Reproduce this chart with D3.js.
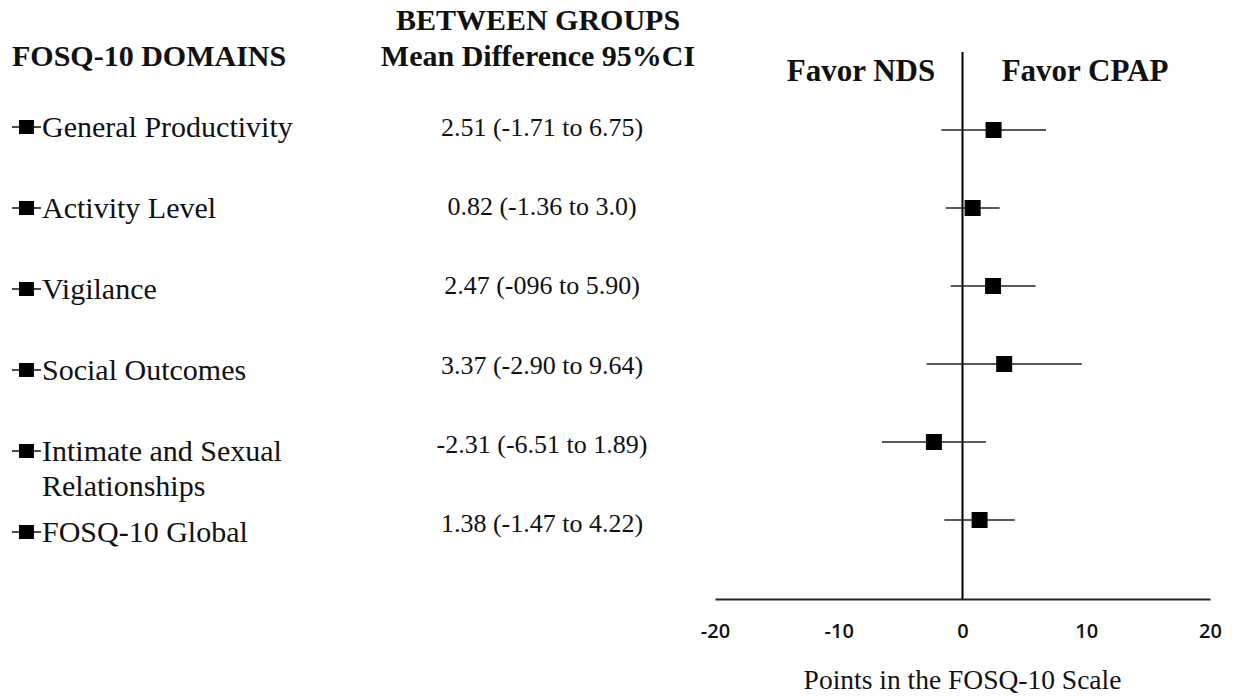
<!DOCTYPE html>
<html>
<head>
<meta charset="utf-8">
<script src="https://cdn.jsdelivr.net/npm/d3@7"></script>
<style>
  html, body { margin: 0; padding: 0; background: #fff; }
  svg { display: block; }
  .serif { font-family: "Liberation Serif", "Times New Roman", serif; fill: #111; }
  .tick text { font-family: "Open Sans", sans-serif; font-size: 20px; font-weight: 600; fill: #111; }
</style>
</head>
<body>
<svg id="canvas" width="1240" height="698"></svg>
<script>
// FOSQ-10 domains and between-group mean differences
const domains = [
	'General Productivity',
	'Activity Level',
	'Vigilance',
	'Social Outcomes',
	'Intimate and Sexual Relationships',
	'FOSQ-10 Global'
];
// label lines as printed
const domainLines = [
	['General Productivity'],
	['Activity Level'],
	['Vigilance'],
	['Social Outcomes'],
	['Intimate and Sexual', 'Relationships'],
	['FOSQ-10 Global']
];
const meanDiff = [2.51, 0.82, 2.47, 3.37, -2.31, 1.38];
const ciLower = [-1.71, -1.36, -0.96, -2.9, -6.51, -1.47];
const ciUpper = [6.75, 3.0, 5.9, 9.64, 1.89, 4.22];
const ciText = [
	'2.51 (-1.71 to 6.75)',
	'0.82 (-1.36 to 3.0)',
	'2.47 (-096 to 5.90)',
	'3.37 (-2.90 to 9.64)',
	'-2.31 (-6.51 to 1.89)',
	'1.38 (-1.47 to 4.22)'
];
const xTicks = [-20, -10, 0, 10, 20];

let rows = domains.map((d, i) => ({
	domain: d,
	lines: domainLines[i],
	mean: meanDiff[i],
	lo: ciLower[i],
	hi: ciUpper[i],
	text: ciText[i]
}));

let svg = d3.select('#canvas');

let x = d3.scaleLinear().domain([-20, 20]).range([715, 1210]);
let yPlot = d3.scalePoint().domain(domains).range([130, 520]);
let yLabel = d3.scalePoint().domain(domains).range([127, 532]);
let yValue = d3.scalePoint().domain(domains).range([127, 523]);
let axisY = 599;

// headers
svg.append('text').attr('class', 'serif')
	.attr('x', 12).attr('y', 66)
	.style('font-size', '30px').style('font-weight', 'bold')
	.text('FOSQ-10 DOMAINS');

svg.append('text').attr('class', 'serif')
	.attr('x', 538).attr('y', 30).attr('text-anchor', 'middle')
	.style('font-size', '30px').style('font-weight', 'bold')
	.text('BETWEEN GROUPS');

svg.append('text').attr('class', 'serif')
	.attr('x', 538).attr('y', 66).attr('text-anchor', 'middle')
	.style('font-size', '30px').style('font-weight', 'bold')
	.text('Mean Difference 95%CI');

// left column: legend glyph + domain names
let labels = svg.selectAll('g.label')
	.data(rows)
	.enter()
	.append('g')
	.attr('class', 'label')
	.attr('transform', (d) => 'translate(0,' + yLabel(d.domain) + ')');

labels.append('line')
	.attr('x1', 12).attr('x2', 41)
	.attr('y1', 0).attr('y2', 0)
	.attr('stroke', '#111').attr('stroke-width', 1.5);

labels.append('rect')
	.attr('x', 19).attr('y', -7)
	.attr('width', 15).attr('height', 14)
	.attr('fill', '#000');

labels.append('text')
	.attr('class', 'serif')
	.attr('x', 42)
	.style('font-size', '30px')
	.selectAll('tspan')
	.data((d) => d.lines)
	.enter()
	.append('tspan')
	.attr('x', 42)
	.attr('y', (d, i) => 10 + i * 35)
	.text((d) => d);

// middle column: mean difference with CI
svg.selectAll('text.value')
	.data(rows)
	.enter()
	.append('text')
	.attr('class', 'serif value')
	.attr('x', 542)
	.attr('y', (d) => yValue(d.domain) + 9)
	.attr('text-anchor', 'middle')
	.style('font-size', '26px')
	.text((d) => d.text);

// plot side headers
svg.append('text').attr('class', 'serif')
	.attr('x', 861).attr('y', 81).attr('text-anchor', 'middle')
	.style('font-size', '31px').style('font-weight', 'bold')
	.text('Favor NDS');

svg.append('text').attr('class', 'serif')
	.attr('x', 1085).attr('y', 81).attr('text-anchor', 'middle')
	.style('font-size', '31px').style('font-weight', 'bold')
	.text('Favor CPAP');

// x axis
let xAxis = d3.axisBottom(x).tickValues(xTicks).tickSize(0).tickPadding(25)
	.tickFormat((d) => String(d));

let gx = svg.append('g')
	.attr('transform', 'translate(0,' + axisY + ')')
	.call(xAxis);
gx.select('.domain').attr('stroke', '#222').attr('stroke-width', 2);

svg.append('text').attr('class', 'serif')
	.attr('x', x(0)).attr('y', 689).attr('text-anchor', 'middle')
	.style('font-size', '27.5px')
	.text('Points in the FOSQ-10 Scale');

// line of no effect
svg.append('line')
	.attr('x1', x(0)).attr('x2', x(0))
	.attr('y1', 52).attr('y2', axisY)
	.attr('stroke', '#000').attr('stroke-width', 2);

// confidence intervals
svg.selectAll('line.ci')
	.data(rows)
	.enter()
	.append('line')
	.attr('class', 'ci')
	.attr('x1', (d) => x(d.lo))
	.attr('x2', (d) => x(d.hi))
	.attr('y1', (d) => yPlot(d.domain))
	.attr('y2', (d) => yPlot(d.domain))
	.attr('stroke', '#222')
	.attr('stroke-width', 1.6);

// point estimates
let sq = 16;
svg.selectAll('rect.est')
	.data(rows)
	.enter()
	.append('rect')
	.attr('class', 'est')
	.attr('x', (d) => x(d.mean) - sq / 2)
	.attr('y', (d) => yPlot(d.domain) - sq / 2)
	.attr('width', sq)
	.attr('height', sq)
	.attr('fill', '#000');
</script>
</body>
</html>
